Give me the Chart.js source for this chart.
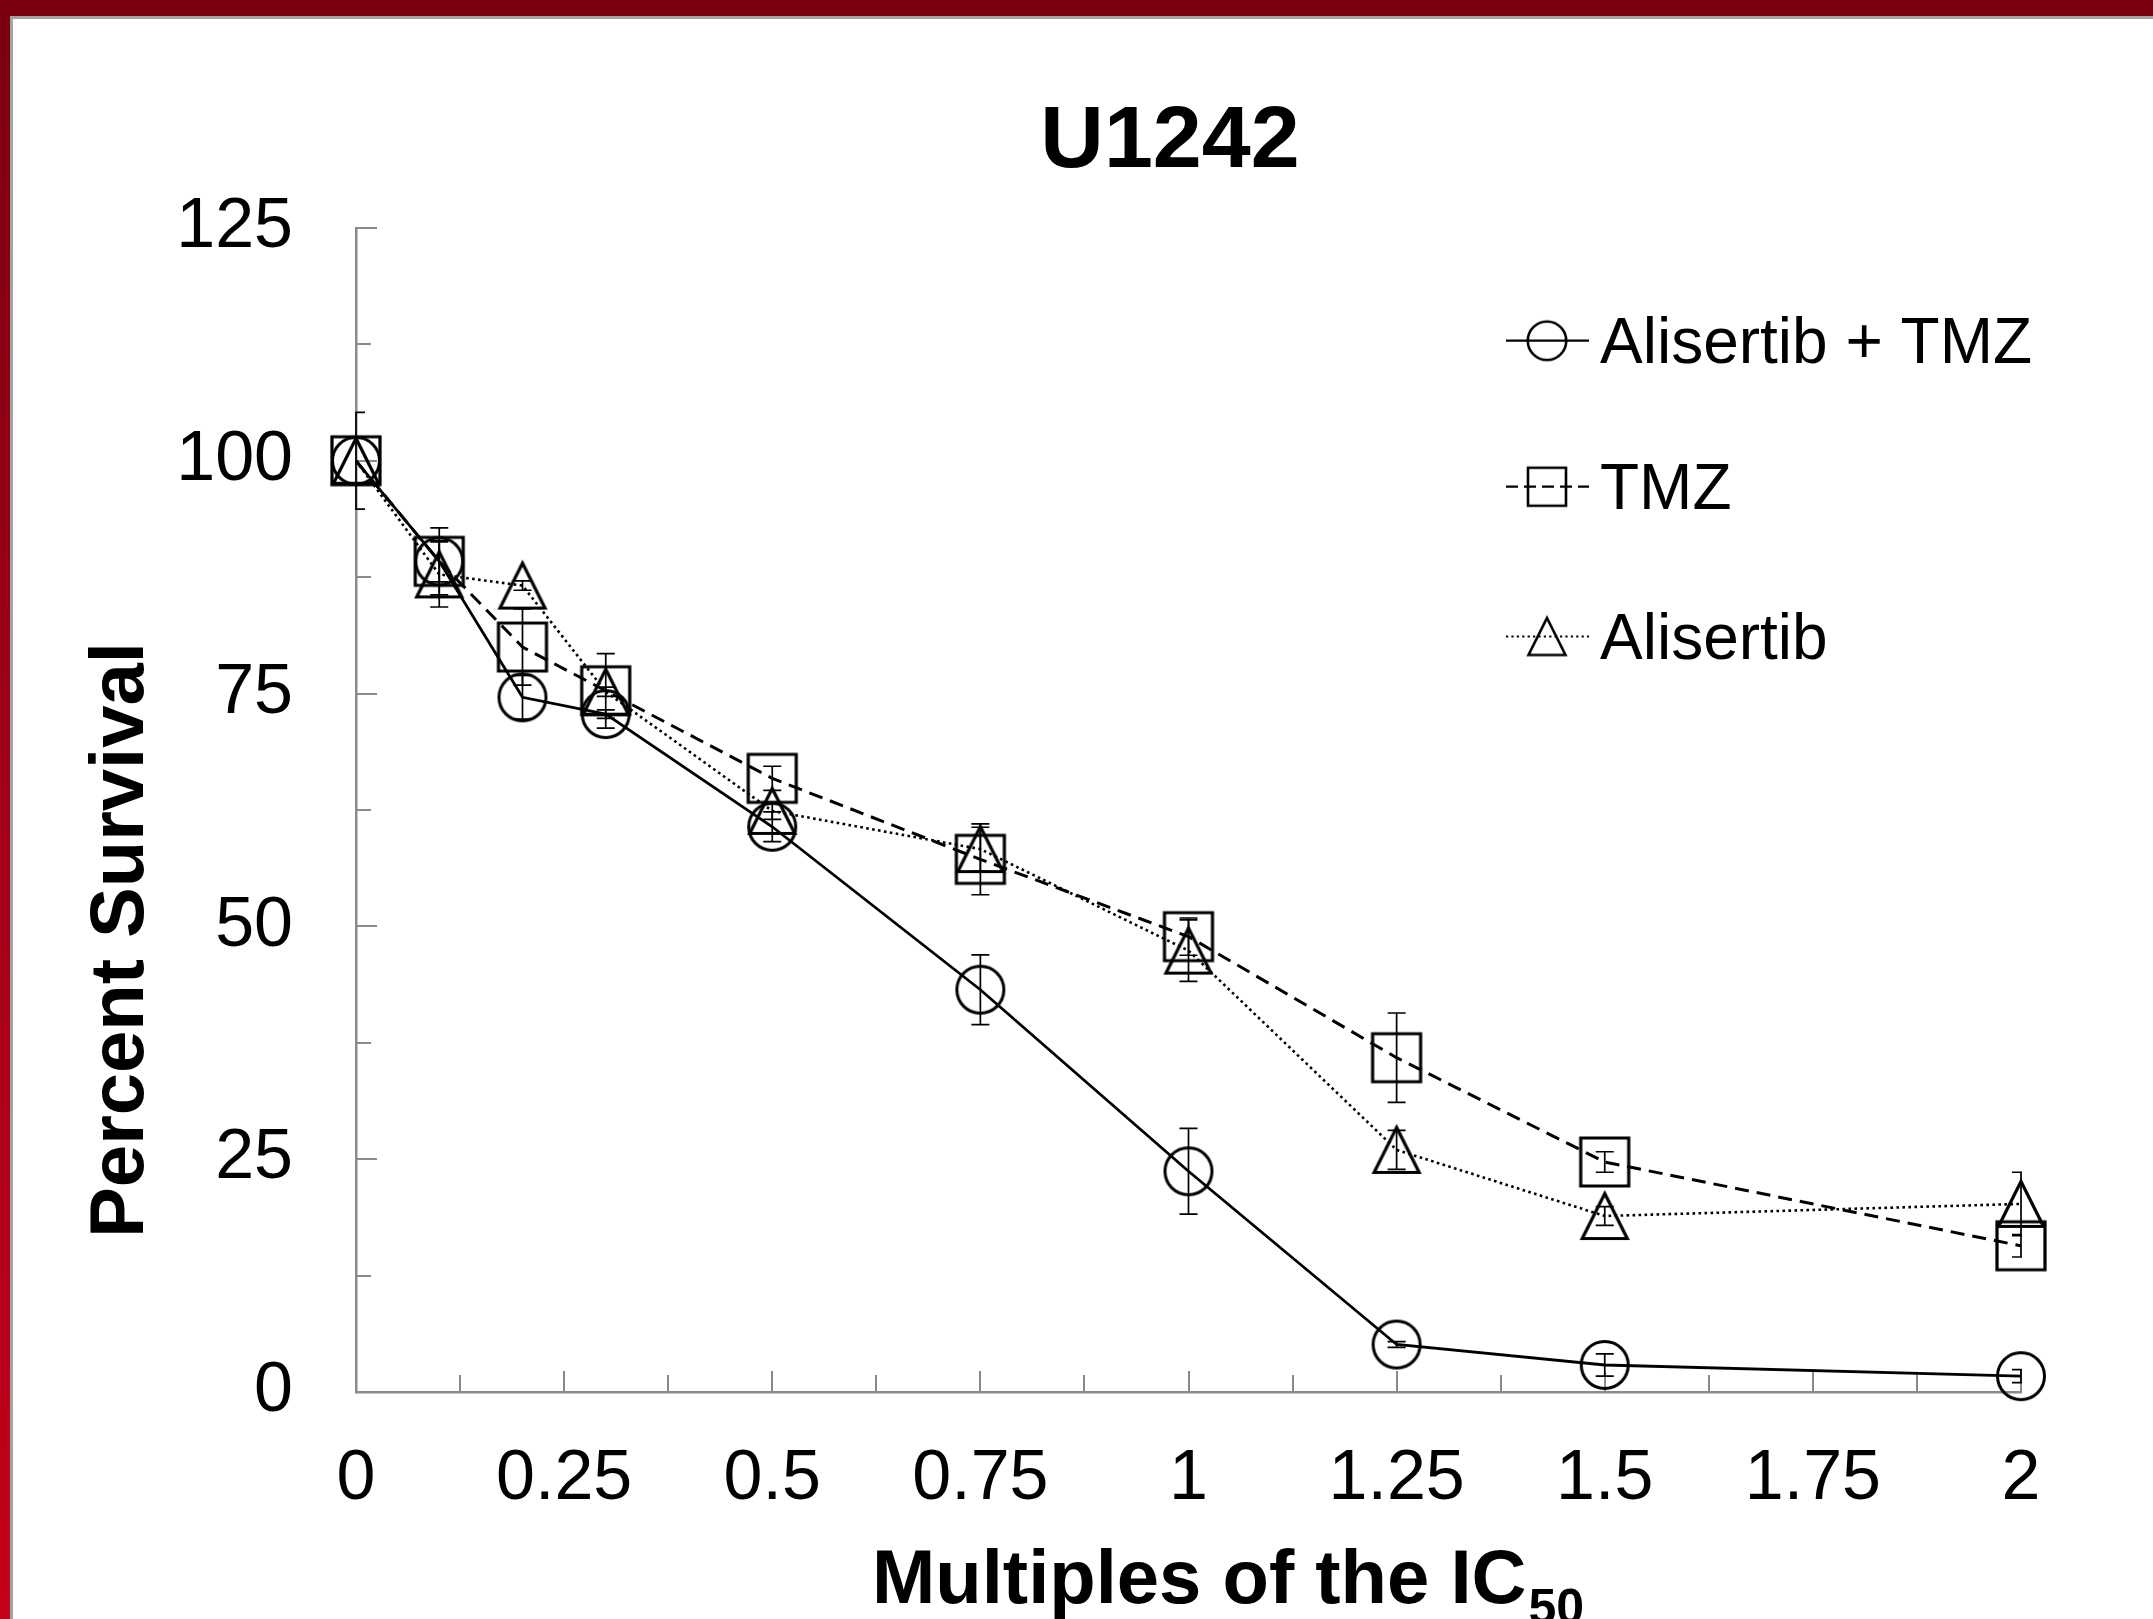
<!DOCTYPE html>
<html>
<head>
<meta charset="utf-8">
<script src="https://cdn.jsdelivr.net/npm/chart.js@4.4.1/dist/chart.umd.min.js"></script>
<style>
  html, body { margin: 0; padding: 0; background: #ffffff; overflow: hidden; }
  #wrap { position: relative; width: 2153px; height: 1619px; background: #ffffff; }
  #chart { position: absolute; left: 0; top: 0; }
  .frame-top { position: absolute; left: 0; top: 0; width: 2153px; height: 16px; background: #7a0010; }
  .frame-topline { position: absolute; left: 10px; top: 16px; width: 2143px; height: 3px; background: #a4a4a4; }
  .frame-left { position: absolute; left: 0; top: 0; width: 10px; height: 1619px; background: linear-gradient(#7a0010, #a3001a 50%, #c4001a); }
  .frame-leftline { position: absolute; left: 10px; top: 16px; width: 3px; height: 1603px; background: #a4a4a4; }
</style>
</head>
<body>
<div id="wrap">
  <canvas id="chart" width="2153" height="1619"></canvas>
  <div class="frame-top"></div>
  <div class="frame-left"></div>
  <div class="frame-topline"></div>
  <div class="frame-leftline"></div>
</div>
<script>
// ---------- data ----------
const xValues = [0, 0.1, 0.2, 0.3, 0.5, 0.75, 1, 1.25, 1.5, 2];
const seriesNames = ['Alisertib + TMZ', 'TMZ', 'Alisertib'];
const comboValues = [100, 89.2, 74.6, 72.8, 60.7, 43.2, 23.7, 5.1, 2.9, 1.7];
const comboErrors = [5.2, 2.2, 2.35, 0.45, 1.6, 3.75, 4.6, 0.3, 1.2, 0.7];
const tmzValues = [100, 89.2, 80.0, 75.3, 65.9, 57.2, 48.9, 35.9, 24.7, 15.7];
const tmzErrors = [0, 3.6, 4.1, 4.0, 1.3, 3.8, 2.0, 4.8, 1.1, 1.2];
const aliValues = [100, 87.8, 86.6, 75.2, 62.4, 58.3, 47.4, 26.0, 18.9, 20.2];
const aliErrors = [0, 3.5, 0.5, 0.5, 0.9, 2.35, 3.3, 2.1, 1.0, 3.4];

const xTickValues = [0, 0.25, 0.5, 0.75, 1, 1.25, 1.5, 1.75, 2];
const xTickLabels = ['0', '0.25', '0.5', '0.75', '1', '1.25', '1.5', '1.75', '2'];
const xMinorTicks = [0.125, 0.375, 0.625, 0.875, 1.125, 1.375, 1.625, 1.875];
const yTickValues = [0, 25, 50, 75, 100, 125];
const yTickLabels = ['0', '25', '50', '75', '100', '125'];
const yMinorTicks = [12.5, 37.5, 62.5, 87.5, 112.5];

const chartTitle = 'U1242';
const xTitleMain = 'Multiples of the IC';
const xTitleSub = '50';
const yTitle = 'Percent Survival';

// ---------- styling helpers ----------
const FONT = '"Liberation Sans", Arial, Helvetica, sans-serif';
const AXIS_GREY = '#8a8a8a';

function makeMarker(type, s, lw) {
  const pad = Math.ceil(lw) + 2;
  let size = Math.ceil(s + 2 * pad);
  if (size % 2) size += 1;
  const c = document.createElement('canvas');
  c.width = size; c.height = size;
  const g = c.getContext('2d');
  g.strokeStyle = '#000';
  g.lineWidth = lw;
  g.lineJoin = 'miter';
  g.translate(size / 2, size / 2);
  g.beginPath();
  if (type === 'circle') {
    g.arc(0, 0, s / 2, 0, Math.PI * 2);
  } else if (type === 'rect') {
    g.rect(-s / 2, -s / 2, s, s);
  } else {
    g.moveTo(0, -s / 2);
    g.lineTo(s / 2, s / 2);
    g.lineTo(-s / 2, s / 2);
    g.closePath();
  }
  g.stroke();
  return c;
}

const dataMarkers = [makeMarker('circle', 47, 3), makeMarker('rect', 48, 3.2), makeMarker('triangle', 45, 3.2)];
const legendMarkers = [makeMarker('circle', 38.5, 2.6), makeMarker('rect', 38, 2.6), makeMarker('triangle', 37, 2.6)];
const lineDashes = [[], [14, 8], [2.6, 3.4]];
const lineWidths = [2.8, 3.0, 2.6];
const legendDashes = [[], [12, 6], [2.2, 3.2]];
const errorSets = [comboErrors, tmzErrors, aliErrors];
const valueSets = [comboValues, tmzValues, aliValues];

// ---------- plugins ----------
const axisTicksPlugin = {
  id: 'axisTicks',
  beforeDatasetsDraw(chart) {
    const { ctx, chartArea: a, scales: { x, y } } = chart;
    ctx.save();
    ctx.strokeStyle = AXIS_GREY;
    ctx.lineWidth = 2;
    ctx.beginPath();
    xTickValues.forEach(v => { if (v === 0) return; const px = Math.round(x.getPixelForValue(v)); ctx.moveTo(px, a.bottom); ctx.lineTo(px, a.bottom - 21); });
    xMinorTicks.forEach(v => { const px = Math.round(x.getPixelForValue(v)); ctx.moveTo(px, a.bottom); ctx.lineTo(px, a.bottom - 17); });
    yTickValues.forEach(v => { if (v === 0) return; const py = Math.round(y.getPixelForValue(v)); ctx.moveTo(a.left, py); ctx.lineTo(a.left + 21, py); });
    yMinorTicks.forEach(v => { const py = Math.round(y.getPixelForValue(v)); ctx.moveTo(a.left, py); ctx.lineTo(a.left + 15, py); });
    ctx.stroke();
    ctx.restore();
  }
};

const errorBarPlugin = {
  id: 'errorBars',
  afterDatasetsDraw(chart) {
    const { ctx, chartArea: a, scales: { x, y } } = chart;
    ctx.save();
    ctx.beginPath();
    ctx.rect(a.left - 1, a.top - 40, a.right - a.left + 2, a.bottom - a.top + 80);
    ctx.clip();
    ctx.strokeStyle = '#000';
    ctx.lineWidth = 1.7;
    valueSets.forEach((vals, si) => {
      const errs = errorSets[si];
      vals.forEach((v, i) => {
        const e = errs[i];
        if (!e) return;
        const px = x.getPixelForValue(xValues[i]);
        const pt = y.getPixelForValue(v + e);
        const pb = y.getPixelForValue(v - e);
        ctx.beginPath();
        ctx.moveTo(px, pt); ctx.lineTo(px, pb);
        ctx.moveTo(px - 9, pt); ctx.lineTo(px + 9, pt);
        ctx.moveTo(px - 9, pb); ctx.lineTo(px + 9, pb);
        ctx.stroke();
      });
    });
    ctx.restore();
  }
};

const textPlugin = {
  id: 'texts',
  afterDraw(chart) {
    const { ctx } = chart;
    ctx.save();
    ctx.fillStyle = '#000';
    // main title
    ctx.font = 'bold 88px ' + FONT;
    ctx.textAlign = 'center';
    ctx.textBaseline = 'alphabetic';
    ctx.fillText(chartTitle, 1170, 167);
    // x title with subscript
    ctx.font = 'bold 76px ' + FONT;
    ctx.textAlign = 'left';
    const mainW = ctx.measureText(xTitleMain).width;
    const startX = 872;
    ctx.fillText(xTitleMain, startX, 1603);
    ctx.font = 'bold 50px ' + FONT;
    ctx.fillText(xTitleSub, startX + mainW + 2, 1624);
    // y title
    ctx.translate(143, 940);
    ctx.rotate(-Math.PI / 2);
    ctx.font = 'bold 76px ' + FONT;
    ctx.textAlign = 'center';
    ctx.fillText(yTitle, 0, 0);
    ctx.restore();

    // legend
    const rows = [340.7, 486.7, 636.5];
    ctx.save();
    rows.forEach((ry, i) => {
      ctx.strokeStyle = '#000';
      ctx.lineWidth = 2.2;
      ctx.setLineDash(legendDashes[i]);
      ctx.beginPath();
      ctx.moveTo(1506, ry); ctx.lineTo(1589, ry);
      ctx.stroke();
      ctx.setLineDash([]);
      const m = legendMarkers[i];
      ctx.drawImage(m, 1547 - m.width / 2, ry - m.height / 2);
      ctx.fillStyle = '#000';
      ctx.font = '64px ' + FONT;
      ctx.textAlign = 'left';
      ctx.textBaseline = 'alphabetic';
      ctx.fillText(chart.data.datasets[i].label, 1600, ry + 22);
    });
    ctx.restore();
  }
};

// ---------- chart ----------
function makeDataset(i, vals) {
  return {
    label: seriesNames[i],
    data: xValues.map((xv, k) => ({ x: xv, y: vals[k] })),
    showLine: true,
    borderColor: '#000',
    backgroundColor: 'rgba(0,0,0,0)',
    borderWidth: lineWidths[i],
    borderDash: lineDashes[i],
    pointStyle: dataMarkers[i],
    pointRadius: 25,
    pointHoverRadius: 25,
    tension: 0,
    fill: false,
    clip: false
  };
}

new Chart(document.getElementById('chart'), {
  type: 'scatter',
  data: {
    datasets: [makeDataset(0, comboValues), makeDataset(1, tmzValues), makeDataset(2, aliValues)]
  },
  options: {
    responsive: false,
    animation: false,
    devicePixelRatio: 1,
    events: [],
    layout: { padding: { left: 0, top: 228, right: 132, bottom: 0 } },
    plugins: {
      legend: { display: false },
      title: { display: false },
      tooltip: { enabled: false }
    },
    scales: {
      x: {
        type: 'linear',
        position: 'bottom',
        min: 0,
        max: 2,
        grid: { display: false, drawTicks: false },
        border: { display: true, color: AXIS_GREY, width: 2.5 },
        ticks: {
          font: { family: FONT, size: 70, lineHeight: 1.2 },
          color: '#000',
          padding: 46,
          maxRotation: 0,
          autoSkip: false,
          callback: (v) => xTickLabels[xTickValues.indexOf(v)]
        },
        afterBuildTicks: (s) => { s.ticks = xTickValues.map(v => ({ value: v })); },
        afterFit: (s) => { s.height = 227; }
      },
      y: {
        type: 'linear',
        position: 'left',
        min: 0,
        max: 125,
        grid: { display: false, drawTicks: false },
        border: { display: true, color: AXIS_GREY, width: 2.5 },
        ticks: {
          font: { family: FONT, size: 70, lineHeight: 1.2 },
          color: '#000',
          padding: 63,
          autoSkip: false,
          callback: (v) => yTickLabels[yTickValues.indexOf(v)]
        },
        afterBuildTicks: (s) => { s.ticks = yTickValues.map(v => ({ value: v })); },
        afterFit: (s) => { s.width = 356; }
      }
    }
  },
  plugins: [axisTicksPlugin, errorBarPlugin, textPlugin]
});
</script>
</body>
</html>
